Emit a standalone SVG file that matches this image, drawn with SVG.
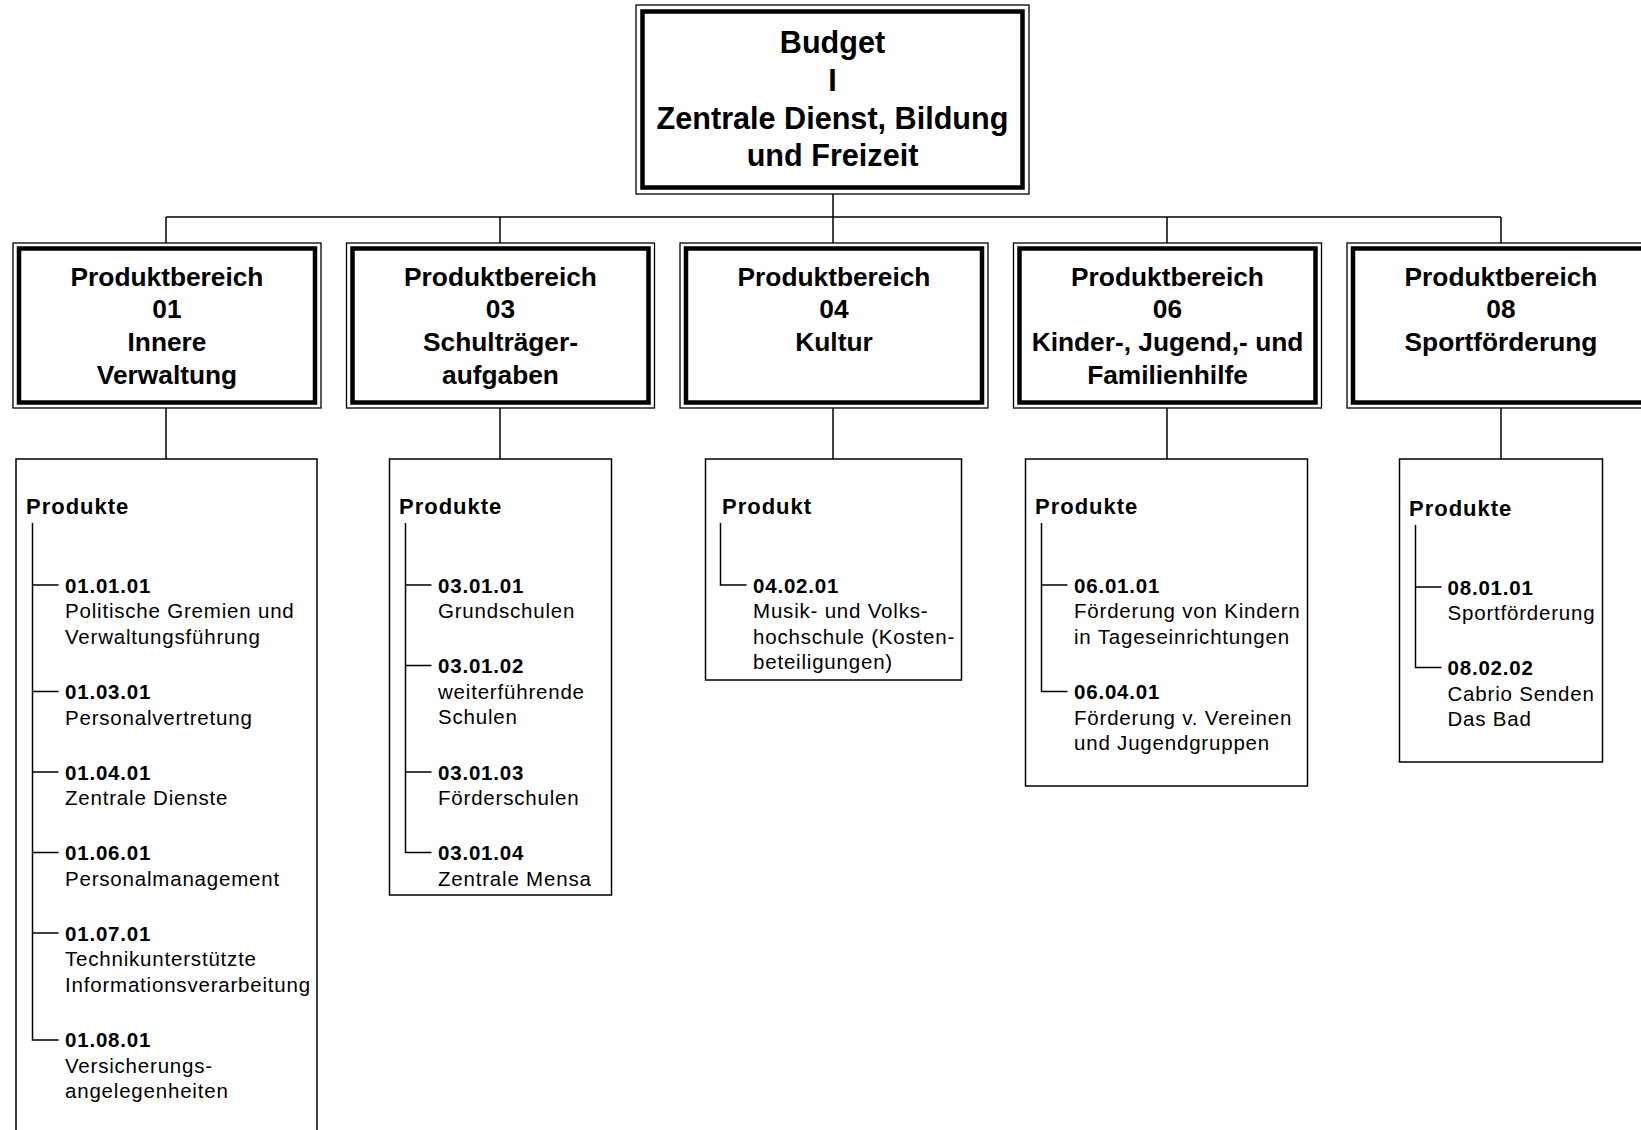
<svg xmlns="http://www.w3.org/2000/svg" width="1641" height="1130" viewBox="0 0 1641 1130">
<style>
  .bg{fill:#fff}
  .outer{fill:#fff;stroke:#000;stroke-width:1.3}
  .inner{fill:none;stroke:#000;stroke-width:4.5}
  .pbox{fill:#fff;stroke:#000;stroke-width:1.5}
  .conn{fill:none;stroke:#000;stroke-width:1.5}
  .tree{fill:none;stroke:#000;stroke-width:1.5}
  .t1{font-family:"Liberation Sans",Arial,sans-serif;font-weight:bold;font-size:30.6px;text-anchor:middle;fill:#000}
  .t2{font-family:"Liberation Sans",Arial,sans-serif;font-weight:bold;font-size:26.3px;text-anchor:middle;fill:#000}
  .hd{font-family:"Liberation Sans",Arial,sans-serif;font-weight:bold;font-size:22px;letter-spacing:1px;fill:#000}
  .code{font-family:"Liberation Sans",Arial,sans-serif;font-weight:bold;font-size:20.5px;letter-spacing:0.8px;fill:#000}
  .desc{font-family:"Liberation Sans",Arial,sans-serif;font-size:20.5px;letter-spacing:0.8px;fill:#000}
</style>
<rect class="bg" x="0" y="0" width="1641" height="1130"/>

<g id="connectors">
  <line class="conn" x1="833" y1="194" x2="833" y2="217"/>
  <line class="conn" x1="166" y1="217" x2="1501" y2="217"/>
  <line class="conn" x1="166" y1="217" x2="166" y2="243"/>
  <line class="conn" x1="500" y1="217" x2="500" y2="243"/>
  <line class="conn" x1="833" y1="217" x2="833" y2="243"/>
  <line class="conn" x1="1167" y1="217" x2="1167" y2="243"/>
  <line class="conn" x1="1501" y1="217" x2="1501" y2="243"/>
  <line class="conn" x1="166" y1="408" x2="166" y2="459"/>
  <line class="conn" x1="500" y1="408" x2="500" y2="459"/>
  <line class="conn" x1="833" y1="408" x2="833" y2="459"/>
  <line class="conn" x1="1167" y1="408" x2="1167" y2="459"/>
  <line class="conn" x1="1501" y1="408" x2="1501" y2="459"/>
</g>

<g id="budget">
  <rect class="outer" x="636" y="5" width="393" height="189"/>
  <rect class="inner" x="642.5" y="11.5" width="380" height="176"/>
  <text class="t1" x="832.5" y="53">Budget</text>
  <text class="t1" x="832.5" y="91">I</text>
  <text class="t1" x="832.5" y="128.5">Zentrale Dienst, Bildung</text>
  <text class="t1" x="832.5" y="166">und Freizeit</text>
</g>

<g id="pb01">
  <rect class="outer" x="13" y="243" width="308" height="165"/>
  <rect class="inner" x="19" y="248.5" width="296" height="154"/>
  <text class="t2" x="167" y="285.5">Produktbereich</text>
  <text class="t2" x="167" y="318">01</text>
  <text class="t2" x="167" y="350.5">Innere</text>
  <text class="t2" x="167" y="383.5">Verwaltung</text>
</g>
<g id="pb03">
  <rect class="outer" x="346.5" y="243" width="308" height="165"/>
  <rect class="inner" x="352.5" y="248.5" width="296" height="154"/>
  <text class="t2" x="500.5" y="285.5">Produktbereich</text>
  <text class="t2" x="500.5" y="318">03</text>
  <text class="t2" x="500.5" y="350.5">Schulträger-</text>
  <text class="t2" x="500.5" y="383.5">aufgaben</text>
</g>
<g id="pb04">
  <rect class="outer" x="680" y="243" width="308" height="165"/>
  <rect class="inner" x="686" y="248.5" width="296" height="154"/>
  <text class="t2" x="834" y="285.5">Produktbereich</text>
  <text class="t2" x="834" y="318">04</text>
  <text class="t2" x="834" y="350.5">Kultur</text>
</g>
<g id="pb06">
  <rect class="outer" x="1013.5" y="243" width="308" height="165"/>
  <rect class="inner" x="1019.5" y="248.5" width="296" height="154"/>
  <text class="t2" x="1167.5" y="285.5">Produktbereich</text>
  <text class="t2" x="1167.5" y="318">06</text>
  <text class="t2" x="1167.5" y="350.5">Kinder-, Jugend,- und</text>
  <text class="t2" x="1167.5" y="383.5">Familienhilfe</text>
</g>
<g id="pb08">
  <rect class="outer" x="1347" y="243" width="308" height="165"/>
  <rect class="inner" x="1353" y="248.5" width="296" height="154"/>
  <text class="t2" x="1501" y="285.5">Produktbereich</text>
  <text class="t2" x="1501" y="318">08</text>
  <text class="t2" x="1501" y="350.5">Sportförderung</text>
</g>

<g id="prod01">
  <rect class="pbox" x="16" y="459" width="301" height="690"/>
  <text class="hd" x="26" y="514">Produkte</text>
  <path class="tree" d="M32.5 523 V1040 H58.5 M32.5 585 H58.5 M32.5 691.5 H58.5 M32.5 772 H58.5 M32.5 852.5 H58.5 M32.5 933 H58.5"/>
  <text class="code" x="65" y="592.7">01.01.01</text>
  <text class="desc" x="65" y="618.2">Politische Gremien und</text>
  <text class="desc" x="65" y="643.7">Verwaltungsführung</text>
  <text class="code" x="65" y="699.2">01.03.01</text>
  <text class="desc" x="65" y="724.7">Personalvertretung</text>
  <text class="code" x="65" y="779.7">01.04.01</text>
  <text class="desc" x="65" y="805.2">Zentrale Dienste</text>
  <text class="code" x="65" y="860.2">01.06.01</text>
  <text class="desc" x="65" y="885.7">Personalmanagement</text>
  <text class="code" x="65" y="940.7">01.07.01</text>
  <text class="desc" x="65" y="966.2">Technikunterstützte</text>
  <text class="desc" x="65" y="991.7">Informationsverarbeitung</text>
  <text class="code" x="65" y="1047.2">01.08.01</text>
  <text class="desc" x="65" y="1072.7">Versicherungs-</text>
  <text class="desc" x="65" y="1098.2">angelegenheiten</text>
</g>

<g id="prod03">
  <rect class="pbox" x="389.5" y="459" width="222" height="436"/>
  <text class="hd" x="399" y="514">Produkte</text>
  <path class="tree" d="M405.5 523 V852.5 H431.5 M405.5 585 H431.5 M405.5 665.5 H431.5 M405.5 772 H431.5"/>
  <text class="code" x="438" y="592.7">03.01.01</text>
  <text class="desc" x="438" y="618.2">Grundschulen</text>
  <text class="code" x="438" y="673.2">03.01.02</text>
  <text class="desc" x="438" y="698.7">weiterführende</text>
  <text class="desc" x="438" y="724.2">Schulen</text>
  <text class="code" x="438" y="779.7">03.01.03</text>
  <text class="desc" x="438" y="805.2">Förderschulen</text>
  <text class="code" x="438" y="860.2">03.01.04</text>
  <text class="desc" x="438" y="885.7">Zentrale Mensa</text>
</g>

<g id="prod04">
  <rect class="pbox" x="705.5" y="459" width="256" height="221"/>
  <text class="hd" x="722" y="514">Produkt</text>
  <path class="tree" d="M720.5 523 V585 H746.5"/>
  <text class="code" x="753" y="592.7">04.02.01</text>
  <text class="desc" x="753" y="618.2">Musik- und Volks-</text>
  <text class="desc" x="753" y="643.7">hochschule (Kosten-</text>
  <text class="desc" x="753" y="669.2">beteiligungen)</text>
</g>

<g id="prod06">
  <rect class="pbox" x="1025.5" y="459" width="282" height="327"/>
  <text class="hd" x="1035" y="514">Produkte</text>
  <path class="tree" d="M1041.5 523 V691.5 H1067.5 M1041.5 585 H1067.5"/>
  <text class="code" x="1074" y="592.7">06.01.01</text>
  <text class="desc" x="1074" y="618.2">Förderung von Kindern</text>
  <text class="desc" x="1074" y="643.7">in Tageseinrichtungen</text>
  <text class="code" x="1074" y="699.2">06.04.01</text>
  <text class="desc" x="1074" y="724.7">Förderung v. Vereinen</text>
  <text class="desc" x="1074" y="750.2">und Jugendgruppen</text>
</g>

<g id="prod08">
  <rect class="pbox" x="1399.5" y="459" width="203" height="303"/>
  <text class="hd" x="1409" y="516">Produkte</text>
  <path class="tree" d="M1415.5 525 V667.5 H1441.5 M1415.5 587 H1441.5"/>
  <text class="code" x="1447.5" y="594.7">08.01.01</text>
  <text class="desc" x="1447.5" y="620.2">Sportförderung</text>
  <text class="code" x="1447.5" y="675.2">08.02.02</text>
  <text class="desc" x="1447.5" y="700.7">Cabrio Senden</text>
  <text class="desc" x="1447.5" y="726.2">Das Bad</text>
</g>
</svg>
